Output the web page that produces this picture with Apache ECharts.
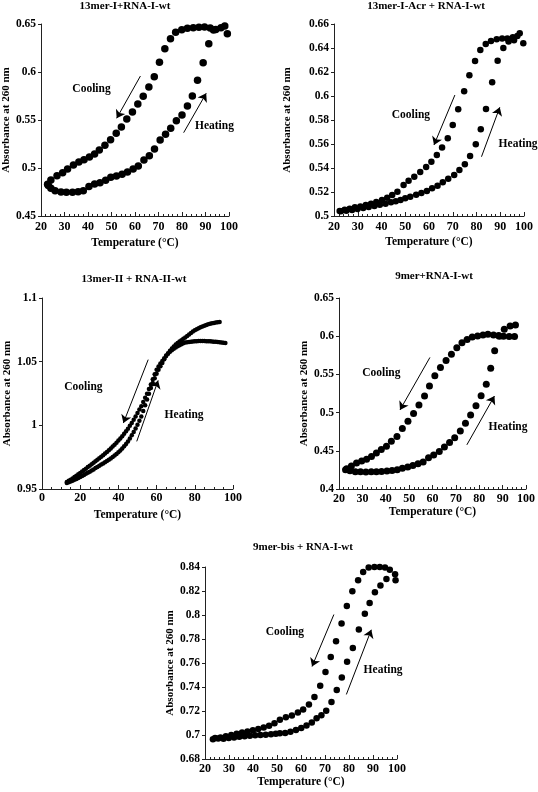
<!DOCTYPE html>
<html>
<head>
<meta charset="utf-8">
<script src="https://cdn.jsdelivr.net/npm/echarts@6/dist/echarts.min.js"></script>
<style>html,body{margin:0;padding:0;background:#fff;}#c{width:538px;height:792px;}</style>
</head>
<body>
<div id="c"></div>
<script>
// ---------- Panel 1: 13mer-I+RNA-I-wt ----------
const p1CoolT = [98.2,96.6,94.4,92.0,89.6,87.2,84.8,82.3,79.9,77.3,75.1,72.7,70.4,68.2,65.9,63.5,61.2,58.9,56.5,54.2,52.0,49.6,47.2,44.8,42.8,40.6,38.3,36.1,33.8,31.3,29.2,26.8,24.2,22.8];
const p1CoolA = [0.648,0.6462,0.6444,0.6458,0.6469,0.6465,0.6462,0.6455,0.6441,0.6413,0.6347,0.6243,0.6101,0.5951,0.5844,0.5747,0.5667,0.5583,0.551,0.5427,0.5361,0.5295,0.5236,0.5187,0.5146,0.5115,0.5087,0.5063,0.5031,0.499,0.4951,0.492,0.4875,0.483];
const p1HeatT = [23.1,24.2,26.0,28.5,30.8,33.4,35.8,38.0,40.4,42.8,45.1,47.5,49.7,52.1,54.5,56.8,59.2,61.4,63.8,66.1,68.3,70.7,73.0,75.2,77.6,80.0,82.3,84.4,86.6,89.0,91.4,93.4,99.3];
const p1HeatA = [0.4819,0.4788,0.4764,0.475,0.4747,0.4747,0.4753,0.4764,0.4806,0.4833,0.4847,0.4872,0.4903,0.4917,0.4934,0.4958,0.499,0.5021,0.5083,0.5128,0.5198,0.5292,0.5351,0.5413,0.5493,0.5552,0.5646,0.575,0.5913,0.6097,0.6295,0.6438,0.6399];

// ---------- Panel 2: 13mer-I-Acr + RNA-I-wt ----------
const p2CoolT = [22.4,24.5,26.6,28.8,31.1,33.4,35.6,37.8,40.2,42.4,44.5,46.7,49.3,51.4,53.8,56.3,58.8,61.0,63.3,65.5,67.9,70.0,72.3,74.8,77.0,79.4,81.6,83.9,86.1,88.5,90.8,93.0,95.3,97.2];
const p2CoolA = [0.5042,0.5053,0.5061,0.5072,0.508,0.5092,0.5103,0.5117,0.5133,0.5153,0.5175,0.5203,0.5258,0.5294,0.5328,0.5367,0.5408,0.5453,0.5508,0.557,0.5647,0.5758,0.5889,0.6039,0.6172,0.6292,0.6383,0.6433,0.6458,0.6472,0.648,0.648,0.6489,0.650];
const p2HeatT = [22.9,25.2,27.6,29.9,32.3,34.6,37.0,39.3,41.7,44.0,46.0,48.0,50.0,52.1,54.6,56.8,59.1,61.3,63.6,65.8,68.1,70.6,72.8,75.1,77.3,79.7,81.8,84.0,86.6,88.9,91.3,93.5,95.8,98.2,99.7];
const p2HeatA = [0.5039,0.5044,0.505,0.5058,0.5067,0.5075,0.5083,0.5094,0.5103,0.5114,0.5123,0.5133,0.5147,0.5161,0.5178,0.5192,0.5208,0.5231,0.5253,0.5281,0.5311,0.5342,0.5383,0.5431,0.55,0.5597,0.5722,0.5892,0.6114,0.6294,0.640,0.6455,0.6465,0.6522,0.6439];

// ---------- Panel 3: 13mer-II + RNA-II-wt ----------
const p3CoolT = [13,14,15,16,17,18,19,20,21,22,23,24,25,26,27,28,29,30,31,32,33,34,35,36,37,38,39,40,41,42,43,44,45,46,47,48,49,50,51,52,53,54,55,56,57,58,59,60,61,62,63,64,65,66,67,68,69,70,71,72,73,74,75,76,77,78,79,80,81,82,83,84,85,86,87,88,89,90,91,92,93,94,95,96];
const p3CoolA = [0.9555,0.9564,0.9573,0.9583,0.9594,0.9604,0.9615,0.9626,0.9637,0.9649,0.966,0.9672,0.9683,0.9695,0.9706,0.9718,0.9729,0.9741,0.9753,0.9765,0.9778,0.9791,0.9804,0.9818,0.9833,0.9848,0.9864,0.988,0.9897,0.9915,0.9934,0.9954,0.9974,0.9996,1.0019,1.0043,1.0069,1.0097,1.0124,1.015,1.0183,1.0216,1.0249,1.0285,1.032,1.0361,1.0401,1.0437,1.0463,1.0486,1.0505,1.0527,1.0548,1.0563,1.0577,1.059,1.0602,1.0612,1.0621,1.0629,1.0637,1.0644,1.065,1.0653,1.0655,1.0657,1.0659,1.066,1.0661,1.0662,1.0662,1.0662,1.0662,1.0661,1.066,1.066,1.0659,1.0657,1.0656,1.0654,1.0652,1.065,1.0648,1.0647];
const p3HeatT = [13,14,15,16,17,18,19,20,21,22,23,24,25,26,27,28,29,30,31,32,33,34,35,36,37,38,39,40,41,42,43,44,45,46,47,48,49,50,51,52,53,54,55,56,57,58,59,60,61,62,63,64,65,66,67,68,69,70,71,72,73,74,75,76,77,78,79,80,81,82,83,84,85,86,87,88,89,90,91,92,93];
const p3HeatA = [0.9548,0.9553,0.9558,0.9565,0.9572,0.9579,0.9586,0.9594,0.9602,0.961,0.9619,0.9627,0.9636,0.9645,0.9654,0.9664,0.9673,0.9683,0.9692,0.9701,0.9711,0.972,0.973,0.974,0.9751,0.9763,0.9775,0.9788,0.9802,0.9818,0.9835,0.9854,0.9874,0.9897,0.9922,0.9948,0.9976,1.0005,1.0036,1.007,1.0113,1.0158,1.0202,1.0248,1.0293,1.0333,1.037,1.0405,1.0436,1.0464,1.049,1.0518,1.0545,1.0566,1.0586,1.0604,1.062,1.0635,1.0647,1.0658,1.0669,1.068,1.069,1.0702,1.0714,1.0725,1.0736,1.0746,1.0754,1.0762,1.077,1.0777,1.0783,1.0788,1.0793,1.0797,1.0801,1.0804,1.0807,1.081,1.0812];

// ---------- Panel 4: 9mer+RNA-I-wt ----------
const p4CoolT = [23.3,25.3,27.5,29.7,31.8,33.9,36.0,38.1,40.3,42.4,44.8,47.1,49.5,51.9,54.2,56.6,58.7,61.0,63.4,65.8,68.1,70.4,72.6,74.8,77.0,79.3,81.6,83.7,86.1,88.3,90.4,92.8,95.1];
const p4CoolA = [0.4265,0.430,0.4339,0.4365,0.4391,0.4426,0.447,0.4517,0.4561,0.4626,0.4687,0.4791,0.4887,0.4987,0.510,0.5217,0.5348,0.5483,0.5591,0.5683,0.5765,0.5848,0.5913,0.5957,0.5991,0.6004,0.6017,0.6026,0.6017,0.6009,0.600,0.5996,0.5996];
const p4HeatT = [22.8,24.7,27.0,29.2,31.5,33.8,36.0,38.2,40.5,42.7,44.9,47.1,49.4,51.6,53.8,56.0,58.3,60.5,62.9,65.1,67.3,69.5,71.9,74.1,76.3,78.6,80.8,83.0,84.9,86.6,88.6,90.7,93.2,95.5];
const p4HeatA = [0.4252,0.4239,0.4226,0.4226,0.4222,0.4226,0.4226,0.423,0.4235,0.4243,0.4252,0.427,0.4287,0.4309,0.433,0.4352,0.441,0.4445,0.449,0.455,0.461,0.467,0.476,0.486,0.497,0.509,0.522,0.537,0.558,0.581,0.600,0.6091,0.6135,0.6148];

// ---------- Panel 5: 9mer-bis + RNA-I-wt ----------
const p5CoolT = [24.2,26.45,28.7,30.95,33.2,35.45,37.7,39.95,42.2,44.45,46.7,48.95,51.2,53.7,56.2,58.7,60.9,63.3,65.6,68.0,70.2,72.4,74.6,76.9,79.1,81.4,83.8,85.9,88.2,90.6,92.8,95.0,97.0,99.2];
const p5CoolA = [0.6975,0.698,0.699,0.700,0.701,0.702,0.703,0.704,0.705,0.7063,0.7078,0.7097,0.7128,0.7147,0.7163,0.7188,0.7213,0.7255,0.7316,0.741,0.7526,0.7649,0.7782,0.7929,0.8075,0.8198,0.829,0.8359,0.8395,0.840,0.840,0.8395,0.8378,0.8339];
const p5HeatT = [23.3,25.5,27.7,29.9,32.1,34.3,36.5,38.7,40.9,43.1,45.3,47.5,49.5,51.2,53.4,55.6,57.9,60.1,62.3,64.5,66.5,68.5,70.5,72.7,74.9,77.0,79.2,81.6,84.1,86.6,88.6,90.8,93.1,95.6,99.4];
const p5HeatA = [0.6965,0.697,0.6968,0.6975,0.698,0.6985,0.699,0.6993,0.6997,0.700,0.7003,0.7007,0.701,0.7014,0.7016,0.7027,0.7041,0.7058,0.708,0.7105,0.7139,0.7165,0.7202,0.7274,0.7374,0.748,0.761,0.7726,0.7879,0.801,0.810,0.819,0.8245,0.830,0.829];

const titles = ['13mer-I+RNA-I-wt','13mer-I-Acr + RNA-I-wt','13mer-II + RNA-II-wt','9mer+RNA-I-wt','9mer-bis + RNA-I-wt'];
const xName = 'Temperature (°C)';
const yName = 'Absorbance at 260 nm';

// ---------- layout / style ----------
const FONT = 'Liberation Serif';
const panels = [
  {grid:{left:40,top:24,width:189,height:192}, title:[125,1], x:[20,100,10,5], y:[0.45,0.65,0.05], yGap:29, xGap:21, xMargin:5, sym:7.5,
   arrows:[[[62.3,0.5958],[52.2,0.5518]],[[80.7,0.5368],[90.3,0.5778]]], texts:[[41.5,0.582,'Cooling'],[93.8,0.5438,'Heating']]},
  {grid:{left:334,top:24,width:190,height:192}, title:[426,1], x:[20,100,10,5], y:[0.5,0.66,0.02], yGap:41, xGap:20, xMargin:5, sym:6.5,
   arrows:[[[70.9,0.6008],[62.1,0.5592]],[[82.1,0.5494],[89.8,0.5906]]], texts:[[52.4,0.5842,'Cooling'],[97.5,0.560,'Heating']]},
  {grid:{left:42,top:298,width:191,height:191}, title:[134,274], x:[0,100,20,4], y:[0.95,1.1,0.05], yGap:28, xGap:20, xMargin:3, sym:4.5,
   arrows:[[[55.6,1.0516],[42.6,1.0018]],[[49.6,0.9874],[60.8,1.0353]]], texts:[[21.7,1.0298,'Cooling'],[74.4,1.0084,'Heating']]},
  {grid:{left:339,top:298,width:191,height:191}, title:[434,271], x:[20,100,10,5], y:[0.4,0.65,0.05], yGap:28, xGap:13, xMargin:4, sym:7,
   arrows:[[[58.9,0.5722],[46.1,0.5035]],[[74.7,0.4578],[86.5,0.5217]]], texts:[[38.1,0.5522,'Cooling'],[92.3,0.4809,'Heating']]},
  {grid:{left:205,top:567,width:192,height:192}, title:[303,542], x:[20,100,10,5], y:[0.68,0.84,0.02], yGap:28, xGap:13, xMargin:4, sym:6.5,
   arrows:[[[73.7,0.8004],[64.6,0.7571]],[[78.9,0.7338],[89.3,0.7877]]], texts:[[53.3,0.7862,'Cooling'],[94.2,0.7544,'Heating']]}
];
const seriesData = [
  [p1CoolT,p1CoolA,p1HeatT,p1HeatA],
  [p2CoolT,p2CoolA,p2HeatT,p2HeatA],
  [p3CoolT,p3CoolA,p3HeatT,p3HeatA],
  [p4CoolT,p4CoolA,p4HeatT,p4HeatA],
  [p5CoolT,p5CoolA,p5HeatT,p5HeatA]
];
const zip = (a,b) => a.map((v,i)=>[v,b[i]]);
const axisLine = {show:true, lineStyle:{color:'#222', width:1}};
const txt = (size) => ({color:'#000', fontFamily:FONT, fontWeight:'bold', fontSize:size});

const option = {animation:false, backgroundColor:'#fff', grid:[], xAxis:[], yAxis:[], title:[], series:[]};
panels.forEach((p,i)=>{
  option.grid.push(Object.assign({}, p.grid));
  option.title.push({text:titles[i], left:p.title[0], top:p.title[1], textAlign:'center', padding:0, textStyle:txt(11)});
  option.xAxis.push({type:'value', gridIndex:i, min:p.x[0], max:p.x[1], interval:p.x[2],
    name:xName, nameLocation:'middle', nameGap:p.xGap, nameTextStyle:txt(11.5),
    axisLine:axisLine, axisTick:{show:true, inside:true, length:4, lineStyle:{color:'#222'}},
    minorTick:{show:true, splitNumber:p.x[3], length:2, lineStyle:{color:'#222'}},
    splitLine:{show:false}, axisLabel:Object.assign({margin:p.xMargin}, txt(12))});
  option.yAxis.push({type:'value', gridIndex:i, min:p.y[0], max:p.y[1], interval:p.y[2],
    name:yName, nameLocation:'middle', nameGap:p.yGap, nameTextStyle:txt(11),
    axisLine:axisLine, axisTick:{show:true, inside:false, length:3, lineStyle:{color:'#222'}},
    splitLine:{show:false}, axisLabel:Object.assign({margin:5}, txt(11.5))});
  const d = seriesData[i];
  option.series.push({type:'scatter', name:'Cooling'+i, xAxisIndex:i, yAxisIndex:i, data:zip(d[0],d[1]),
    symbol:'circle', symbolSize:p.sym, itemStyle:{color:'#000', opacity:1}, silent:true,
    markLine:{silent:true, symbol:['none','arrow'], symbolSize:8, label:{show:false},
      lineStyle:{color:'#000', width:1, type:'solid', opacity:1}, itemStyle:{color:'#000'},
      data:p.arrows.map(a=>[{coord:a[0]},{coord:a[1]}])},
    markPoint:{silent:true, symbol:'circle', symbolSize:0, itemStyle:{color:'transparent'},
      label:Object.assign({show:true, position:'inside', formatter:'{b}'}, txt(11.5)),
      data:p.texts.map(t=>({name:t[2], coord:[t[0],t[1]]}))}
  });
  option.series.push({type:'scatter', name:'Heating'+i, xAxisIndex:i, yAxisIndex:i, data:zip(d[2],d[3]),
    symbol:'circle', symbolSize:p.sym, itemStyle:{color:'#000', opacity:1}, silent:true});
});
const chart = echarts.init(document.getElementById('c'), null, {renderer:'canvas'});
chart.setOption(option);
</script>
</body>
</html>
